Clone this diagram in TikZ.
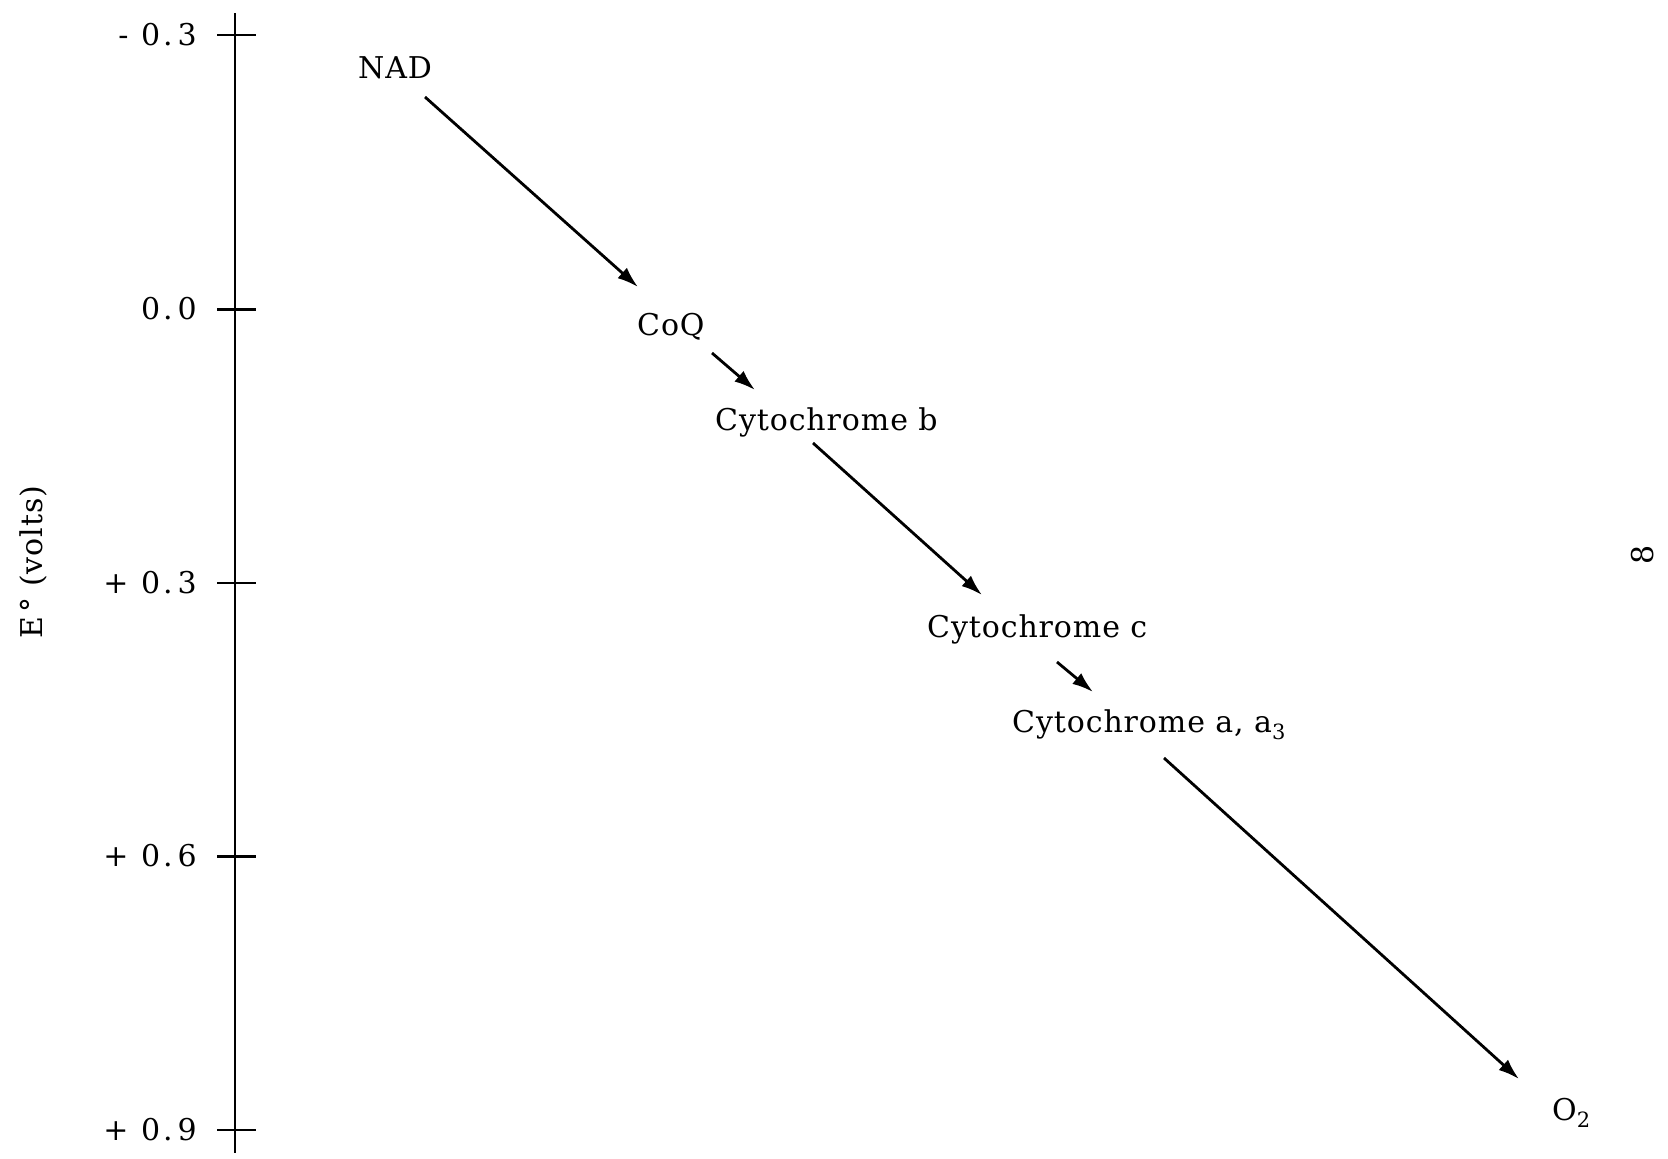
\documentclass[tikz,border=0pt]{standalone}
\usepackage{fontspec}
\setmainfont{DejaVu Serif}[LetterSpace=3]
\usetikzlibrary{arrows.meta}
\tikzset{
  lbl/.style={inner sep=0pt, anchor=base west},
  ticklbl/.style={inner sep=0pt, anchor=base east, font=\fontsize{30}{36}\selectfont\addfontfeature{LetterSpace=10}},
  arr/.style={line width=2.8pt, -{Latex[length=21pt,width=14pt]}},
  axisline/.style={line width=2.8pt},
}
\begin{document}
\begin{tikzpicture}[x=1pt,y=-1pt,
  font=\fontsize{30}{36}\selectfont]
\useasboundingbox (0,0) rectangle (1668,1159);
% axis
\coordinate (axtop) at (235,13);
\coordinate (axbot) at (235,1153);
\draw[axisline] (axtop) -- (axbot);
\foreach \y/\t/\n in {35/{- 0.\,3}/a, 309.5/{0.\,0}/b, 583/{+ 0.\,3}/c, 856.5/{+ 0.\,6}/d, 1130/{+ 0.\,9}/e}{
  \coordinate (tl\n) at (217,\y);
  \coordinate (tr\n) at (256,\y);
  \draw[axisline] (tl\n) -- (tr\n);
  \node[ticklbl] (lab\n) at (197,\y+10) {\t};
}
\node[rotate=90, inner sep=0pt, font=\fontsize{30}{36}\selectfont] (ylab) at (33,562) {E\kern4pt° (volts)};
% species
\node[lbl] (NAD) at (358,78) {NAD};
\node[lbl] (CoQ) at (637,335) {CoQ};
\node[lbl] (Cb) at (715,430) {Cytochrome b};
\node[lbl] (Cc) at (927,637) {Cytochrome c};
\node[lbl] (Ca) at (1012,732) {Cytochrome a, a\textsubscript{3}};
\node[lbl] (O2) at (1552,1120) {O\textsubscript{2}};
% arrows
\draw[arr] ([shift={(67,19)}]NAD.base west) -- ([shift={(1,-48)}]CoQ.base west);
\draw[arr] ([shift={(75,18)}]CoQ.base west) -- ([shift={(40,-40)}]Cb.base west);
\draw[arr] ([shift={(98,13)}]Cb.base west) -- ([shift={(55,-42)}]Cc.base west);
\draw[arr] ([shift={(130,25)}]Cc.base west) -- ([shift={(81,-40)}]Ca.base west);
\draw[arr] ([shift={(152,26)}]Ca.base west) -- ([shift={(-33,-41)}]O2.base west);
% page number
\node[rotate=90, inner sep=0pt] (pg) at (1643,555) {8};
\end{tikzpicture}
\end{document}
